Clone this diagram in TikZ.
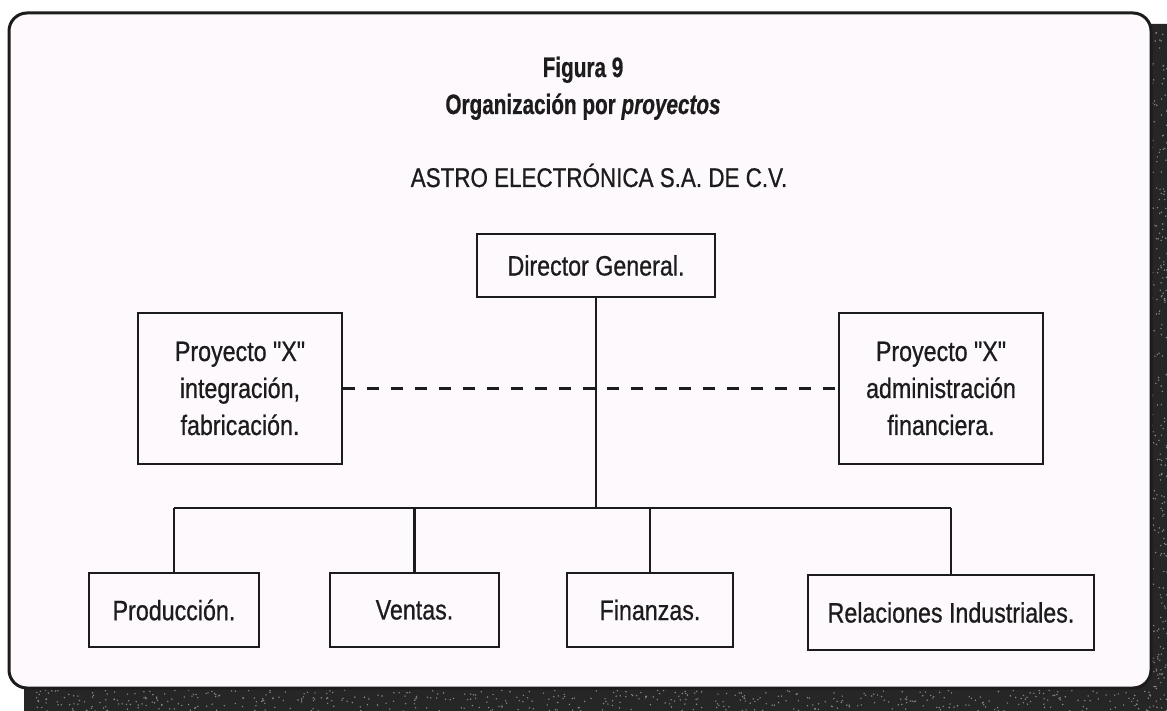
\documentclass[tikz,border=0pt]{standalone}
\usepackage{fontspec}
\setmainfont{Liberation Sans}[FakeStretch=0.83, FakeBold=0.7, Ligatures=TeXOff]
\newfontfamily\headfont{Liberation Sans}[FakeStretch=0.74, FakeBold=0.6, Ligatures=TeXOff]
\definecolor{ink}{HTML}{1C1C1C}
\definecolor{panel}{HTML}{FDF9FD}
\definecolor{shadowgray}{HTML}{262626}
\definecolor{grain}{HTML}{8A8A8A}
\newcommand{\orgfont}{\fontsize{28}{37}\selectfont}
\newcommand{\titlefont}{\headfont\bfseries\fontsize{28}{32}\selectfont}
\newcommand{\firmfont}{\fontsize{27}{32}\selectfont}
\begin{document}
\begin{tikzpicture}[x=1pt,y=-1pt]
\tikzset{
  unit/.style={draw=ink, line width=2.2pt, fill=panel, inner sep=0pt,
               font=\orgfont, text=ink, align=center},
  link/.style={draw=ink, line width=2.2pt},
  heading/.style={anchor=base, text=ink},
}
\useasboundingbox (0,0) rectangle (1167,711);
\fill[white] (0,0) rectangle (1167,711);
% drop shadow of the frame, with a speckled print texture
\begin{scope}
  \clip (0,0) rectangle (1167,711);
  \fill[shadowgray, rounded corners=22pt] (24,24) rectangle (1195,745);
  \pgfmathsetseed{42}
  \foreach \i in {1,...,520} {
    \pgfmathsetmacro{\gx}{30+1137*rnd}
    \pgfmathsetmacro{\gy}{690+21*rnd}
    \fill[grain] (\gx,\gy) circle (0.8pt);
  }
  \foreach \i in {1,...,220} {
    \pgfmathsetmacro{\gx}{1152+15*rnd}
    \pgfmathsetmacro{\gy}{30+660*rnd}
    \fill[grain] (\gx,\gy) circle (0.8pt);
  }
\end{scope}
% frame
\draw[ink, line width=3pt, fill=panel, rounded corners=18pt] (9,13) rectangle (1151,688);

% headings
\node[heading, font=\titlefont] (fig) at (583,77) {Figura 9};
\node[heading, font=\titlefont] (sub) at (583,114) {Organización por \textit{proyectos}};
\node[heading, font=\firmfont] (firm) at (599,187) {ASTRO ELECTRÓNICA S.A. DE C.V.};

% boxes
\node[unit, minimum width=238pt, minimum height=63pt] (dir) at (596,265.5) {Director General.};
\node[unit, minimum width=204pt, minimum height=151pt] (pl) at (240,388.5)
  {Proyecto "X"\\integración,\\fabricación.};
\node[unit, minimum width=204pt, minimum height=151pt] (pr) at (941,388.5)
  {Proyecto "X"\\administración\\financiera.};
\node[unit, minimum width=170pt, minimum height=74pt] (prod) at (174,610) {Producción.};
\node[unit, minimum width=169pt, minimum height=74pt] (vent) at (414.5,610) {Ventas.};
\node[unit, minimum width=166pt, minimum height=74pt] (fin) at (650,610) {Finanzas.};
\node[unit, minimum width=286pt, minimum height=75pt] (rel) at (951,612.5) {Relaciones Industriales.};

% connectors
\coordinate (bus) at (596,508);
\draw[link] (dir.south) -- (dir.south |- bus);
\draw[link] (prod.north |- bus) -- (rel.north |- bus);
\foreach \n in {prod,vent,fin,rel}
  \draw[link] (\n.north) -- (\n.north |- bus);
\draw[link, dash pattern=on 12pt off 12pt] (pl.east) -- (pr.west);
\end{tikzpicture}
\end{document}
